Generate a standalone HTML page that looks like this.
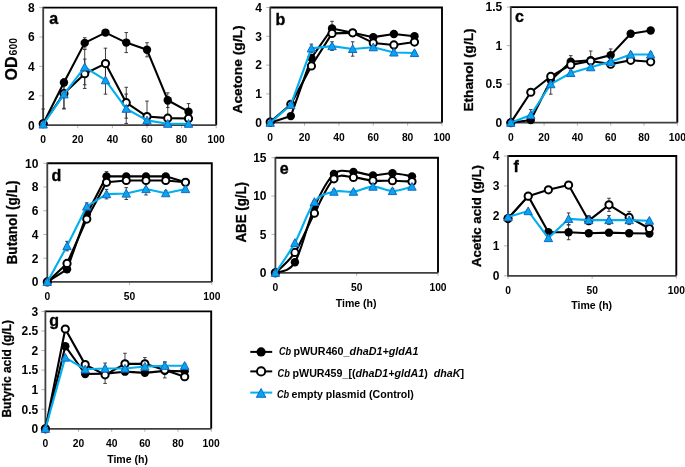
<!DOCTYPE html>
<html><head><meta charset="utf-8"><title>Figure</title>
<style>
html,body{margin:0;padding:0;background:#fff;}
body{width:685px;height:467px;overflow:hidden;}
svg{display:block;will-change:transform;filter:blur(0.35px);}
text{font-family:"Liberation Sans", sans-serif;font-weight:bold;fill:#000;}
.yl{text-anchor:end;}
.xl{text-anchor:middle;}
.pl{font-size:16px;stroke:#000;stroke-width:0.35px;}
.at{stroke:#000;stroke-width:0.3px;}
.ht{font-size:10.8px;}
.lg{font-size:10.6px;white-space:pre;}
</style></head>
<body>
<svg width="685" height="467" viewBox="0 0 685 467">
<rect width="685" height="467" fill="#fff"/>
<g id="pa">
<path d="M43.2,7.6 H216.2 V125.2" fill="none" stroke="#000" stroke-width="1.9"/>
<line x1="39.2" y1="125.2" x2="43.2" y2="125.2" stroke="#b4b4b4" stroke-width="1"/>
<text x="34.8" y="129.52" class="yl" style="font-size:12px">0</text>
<line x1="39.2" y1="95.8" x2="43.2" y2="95.8" stroke="#b4b4b4" stroke-width="1"/>
<text x="34.8" y="100.12" class="yl" style="font-size:12px">2</text>
<line x1="39.2" y1="66.4" x2="43.2" y2="66.4" stroke="#b4b4b4" stroke-width="1"/>
<text x="34.8" y="70.72" class="yl" style="font-size:12px">4</text>
<line x1="39.2" y1="37" x2="43.2" y2="37" stroke="#b4b4b4" stroke-width="1"/>
<text x="34.8" y="41.32" class="yl" style="font-size:12px">6</text>
<line x1="39.2" y1="7.6" x2="43.2" y2="7.6" stroke="#b4b4b4" stroke-width="1"/>
<text x="34.8" y="11.92" class="yl" style="font-size:12px">8</text>
<line x1="43.2" y1="125.2" x2="43.2" y2="128.2" stroke="#b4b4b4" stroke-width="1"/>
<text x="43.2" y="143.11" class="xl" style="font-size:10.3px">0</text>
<line x1="77.8" y1="125.2" x2="77.8" y2="128.2" stroke="#b4b4b4" stroke-width="1"/>
<text x="77.8" y="143.11" class="xl" style="font-size:10.3px">20</text>
<line x1="112.4" y1="125.2" x2="112.4" y2="128.2" stroke="#b4b4b4" stroke-width="1"/>
<text x="112.4" y="143.11" class="xl" style="font-size:10.3px">40</text>
<line x1="147" y1="125.2" x2="147" y2="128.2" stroke="#b4b4b4" stroke-width="1"/>
<text x="147" y="143.11" class="xl" style="font-size:10.3px">60</text>
<line x1="181.6" y1="125.2" x2="181.6" y2="128.2" stroke="#b4b4b4" stroke-width="1"/>
<text x="181.6" y="143.11" class="xl" style="font-size:10.3px">80</text>
<line x1="216.2" y1="125.2" x2="216.2" y2="128.2" stroke="#b4b4b4" stroke-width="1"/>
<text x="216.2" y="143.11" class="xl" style="font-size:10.3px">100</text>
<path d="M43.2,6.8 V125.2 H216.2" fill="none" stroke="#404040" stroke-width="1.8"/>
<text x="49.2" y="24.2" class="pl">a</text>
<path d="M43.2,109.03 V125.2 M41.4,109.03 H45 M41.4,125.2 H45" stroke="#2a2a2a" stroke-width="0.9" fill="none"/>
<path d="M84.72,37.74 V48.02 M82.92,37.74 H86.52 M82.92,48.02 H86.52" stroke="#2a2a2a" stroke-width="0.9" fill="none"/>
<path d="M105.48,31.12 V34.06 M103.68,31.12 H107.28 M103.68,34.06 H107.28" stroke="#2a2a2a" stroke-width="0.9" fill="none"/>
<path d="M126.24,32.59 V52.58 M124.44,32.59 H128.04 M124.44,52.58 H128.04" stroke="#2a2a2a" stroke-width="0.9" fill="none"/>
<path d="M147,42.73 V56.84 M145.2,42.73 H148.8 M145.2,56.84 H148.8" stroke="#2a2a2a" stroke-width="0.9" fill="none"/>
<path d="M167.76,92.86 V107.56 M165.96,92.86 H169.56 M165.96,107.56 H169.56" stroke="#2a2a2a" stroke-width="0.9" fill="none"/>
<path d="M188.52,103.59 V119.76 M186.72,103.59 H190.32 M186.72,119.76 H190.32" stroke="#2a2a2a" stroke-width="0.9" fill="none"/>
<path d="M63.96,78.9 V108.3 M62.16,78.9 H65.76 M62.16,108.3 H65.76" stroke="#2a2a2a" stroke-width="0.9" fill="none"/>
<path d="M84.72,59.05 V88.45 M82.92,59.05 H86.52 M82.92,88.45 H86.52" stroke="#2a2a2a" stroke-width="0.9" fill="none"/>
<path d="M105.48,48.17 V79.04 M103.68,48.17 H107.28 M103.68,79.04 H107.28" stroke="#2a2a2a" stroke-width="0.9" fill="none"/>
<path d="M126.24,87.27 V118.14 M124.44,87.27 H128.04 M124.44,118.14 H128.04" stroke="#2a2a2a" stroke-width="0.9" fill="none"/>
<path d="M147,101.09 V125.2 M145.2,101.09 H148.8 M145.2,125.2 H148.8" stroke="#2a2a2a" stroke-width="0.9" fill="none"/>
<path d="M167.76,104.18 V125.2 M165.96,104.18 H169.56 M165.96,125.2 H169.56" stroke="#2a2a2a" stroke-width="0.9" fill="none"/>
<path d="M188.52,114.03 V122.85 M186.72,114.03 H190.32 M186.72,122.85 H190.32" stroke="#2a2a2a" stroke-width="0.9" fill="none"/>
<path d="M63.96,79.63 V109.03 M62.16,79.63 H65.76 M62.16,109.03 H65.76" stroke="#2a2a2a" stroke-width="0.9" fill="none"/>
<path d="M84.72,49.49 V84.78 M82.92,49.49 H86.52 M82.92,84.78 H86.52" stroke="#2a2a2a" stroke-width="0.9" fill="none"/>
<path d="M105.48,66.25 V94.18 M103.68,66.25 H107.28 M103.68,94.18 H107.28" stroke="#2a2a2a" stroke-width="0.9" fill="none"/>
<path d="M126.24,94.04 V123.44 M124.44,94.04 H128.04 M124.44,123.44 H128.04" stroke="#2a2a2a" stroke-width="0.9" fill="none"/>
<path d="M147,115.94 V124.76 M145.2,115.94 H148.8 M145.2,124.76 H148.8" stroke="#2a2a2a" stroke-width="0.9" fill="none"/>
<path d="M167.76,122.26 V125.2 M165.96,122.26 H169.56 M165.96,125.2 H169.56" stroke="#2a2a2a" stroke-width="0.9" fill="none"/>
<path d="M188.52,122.26 V125.2 M186.72,122.26 H190.32 M186.72,125.2 H190.32" stroke="#2a2a2a" stroke-width="0.9" fill="none"/>
<path d="M43.2,123.73 L63.96,82.57 L84.72,42.88 L105.48,32.59 L126.24,42.59 L147,49.79 L167.76,100.21 L188.52,111.68" fill="none" stroke="#000" stroke-width="2.1" stroke-linejoin="round"/>
<circle cx="43.2" cy="123.73" r="4.2" fill="#000"/>
<circle cx="63.96" cy="82.57" r="4.2" fill="#000"/>
<circle cx="84.72" cy="42.88" r="4.2" fill="#000"/>
<circle cx="105.48" cy="32.59" r="4.2" fill="#000"/>
<circle cx="126.24" cy="42.59" r="4.2" fill="#000"/>
<circle cx="147" cy="49.79" r="4.2" fill="#000"/>
<circle cx="167.76" cy="100.21" r="4.2" fill="#000"/>
<circle cx="188.52" cy="111.68" r="4.2" fill="#000"/>
<path d="M43.2,123.73 L63.96,93.59 L84.72,73.75 L105.48,63.61 L126.24,102.71 L147,116.53 L167.76,118.14 L188.52,118.44" fill="none" stroke="#000" stroke-width="2.1" stroke-linejoin="round"/>
<circle cx="43.2" cy="123.73" r="3.6" fill="#fff" stroke="#000" stroke-width="2"/>
<circle cx="63.96" cy="93.59" r="3.6" fill="#fff" stroke="#000" stroke-width="2"/>
<circle cx="84.72" cy="73.75" r="3.6" fill="#fff" stroke="#000" stroke-width="2"/>
<circle cx="105.48" cy="63.61" r="3.6" fill="#fff" stroke="#000" stroke-width="2"/>
<circle cx="126.24" cy="102.71" r="3.6" fill="#fff" stroke="#000" stroke-width="2"/>
<circle cx="147" cy="116.53" r="3.6" fill="#fff" stroke="#000" stroke-width="2"/>
<circle cx="167.76" cy="118.14" r="3.6" fill="#fff" stroke="#000" stroke-width="2"/>
<circle cx="188.52" cy="118.44" r="3.6" fill="#fff" stroke="#000" stroke-width="2"/>
<path d="M43.2,124.47 L63.96,94.33 L84.72,67.13 L105.48,80.22 L126.24,108.74 L147,120.35 L167.76,123.73 L188.52,123.73" fill="none" stroke="#00aff0" stroke-width="2.1" stroke-linejoin="round"/>
<path d="M43.2,120.27 L47.4,128.03 L39,128.03 Z" fill="#06a6ec" stroke="#1468c8" stroke-width="1"/>
<path d="M63.96,90.13 L68.16,97.9 L59.76,97.9 Z" fill="#06a6ec" stroke="#1468c8" stroke-width="1"/>
<path d="M84.72,62.93 L88.92,70.7 L80.52,70.7 Z" fill="#06a6ec" stroke="#1468c8" stroke-width="1"/>
<path d="M105.48,76.02 L109.68,83.79 L101.28,83.79 Z" fill="#06a6ec" stroke="#1468c8" stroke-width="1"/>
<path d="M126.24,104.54 L130.44,112.31 L122.04,112.31 Z" fill="#06a6ec" stroke="#1468c8" stroke-width="1"/>
<path d="M147,116.15 L151.2,123.92 L142.8,123.92 Z" fill="#06a6ec" stroke="#1468c8" stroke-width="1"/>
<path d="M167.76,119.53 L171.96,127.3 L163.56,127.3 Z" fill="#06a6ec" stroke="#1468c8" stroke-width="1"/>
<path d="M188.52,119.53 L192.72,127.3 L184.32,127.3 Z" fill="#06a6ec" stroke="#1468c8" stroke-width="1"/>
</g>
<g id="pb">
<path d="M270.2,7.5 H442 V122.7" fill="none" stroke="#000" stroke-width="1.9"/>
<line x1="266.2" y1="122.7" x2="270.2" y2="122.7" stroke="#b4b4b4" stroke-width="1"/>
<text x="262" y="127.02" class="yl" style="font-size:12px">0</text>
<line x1="266.2" y1="93.9" x2="270.2" y2="93.9" stroke="#b4b4b4" stroke-width="1"/>
<text x="262" y="98.22" class="yl" style="font-size:12px">1</text>
<line x1="266.2" y1="65.1" x2="270.2" y2="65.1" stroke="#b4b4b4" stroke-width="1"/>
<text x="262" y="69.42" class="yl" style="font-size:12px">2</text>
<line x1="266.2" y1="36.3" x2="270.2" y2="36.3" stroke="#b4b4b4" stroke-width="1"/>
<text x="262" y="40.62" class="yl" style="font-size:12px">3</text>
<line x1="266.2" y1="7.5" x2="270.2" y2="7.5" stroke="#b4b4b4" stroke-width="1"/>
<text x="262" y="11.82" class="yl" style="font-size:12px">4</text>
<line x1="270.2" y1="122.7" x2="270.2" y2="125.7" stroke="#b4b4b4" stroke-width="1"/>
<text x="270.2" y="140.91" class="xl" style="font-size:10.3px">0</text>
<line x1="304.56" y1="122.7" x2="304.56" y2="125.7" stroke="#b4b4b4" stroke-width="1"/>
<text x="304.56" y="140.91" class="xl" style="font-size:10.3px">20</text>
<line x1="338.92" y1="122.7" x2="338.92" y2="125.7" stroke="#b4b4b4" stroke-width="1"/>
<text x="338.92" y="140.91" class="xl" style="font-size:10.3px">40</text>
<line x1="373.28" y1="122.7" x2="373.28" y2="125.7" stroke="#b4b4b4" stroke-width="1"/>
<text x="373.28" y="140.91" class="xl" style="font-size:10.3px">60</text>
<line x1="407.64" y1="122.7" x2="407.64" y2="125.7" stroke="#b4b4b4" stroke-width="1"/>
<text x="407.64" y="140.91" class="xl" style="font-size:10.3px">80</text>
<line x1="442" y1="122.7" x2="442" y2="125.7" stroke="#b4b4b4" stroke-width="1"/>
<text x="442" y="140.91" class="xl" style="font-size:10.3px">100</text>
<path d="M270.2,6.7 V122.7 H442" fill="none" stroke="#404040" stroke-width="1.8"/>
<text x="275.6" y="24.8" class="pl">b</text>
<path d="M290.82,114.64 V117.52 M289.02,114.64 H292.62 M289.02,117.52 H292.62" stroke="#2a2a2a" stroke-width="0.9" fill="none"/>
<path d="M311.43,55.02 V60.78 M309.63,55.02 H313.23 M309.63,60.78 H313.23" stroke="#2a2a2a" stroke-width="0.9" fill="none"/>
<path d="M332.05,21.32 V35.72 M330.25,21.32 H333.85 M330.25,35.72 H333.85" stroke="#2a2a2a" stroke-width="0.9" fill="none"/>
<path d="M352.66,29.96 V35.72 M350.86,29.96 H354.46 M350.86,35.72 H354.46" stroke="#2a2a2a" stroke-width="0.9" fill="none"/>
<path d="M373.28,34.28 V40.04 M371.48,34.28 H375.08 M371.48,40.04 H375.08" stroke="#2a2a2a" stroke-width="0.9" fill="none"/>
<path d="M393.9,31.12 V36.88 M392.1,31.12 H395.7 M392.1,36.88 H395.7" stroke="#2a2a2a" stroke-width="0.9" fill="none"/>
<path d="M414.51,33.42 V39.18 M412.71,33.42 H416.31 M412.71,39.18 H416.31" stroke="#2a2a2a" stroke-width="0.9" fill="none"/>
<path d="M290.82,102.83 V105.71 M289.02,102.83 H292.62 M289.02,105.71 H292.62" stroke="#2a2a2a" stroke-width="0.9" fill="none"/>
<path d="M311.43,63.08 V68.84 M309.63,63.08 H313.23 M309.63,68.84 H313.23" stroke="#2a2a2a" stroke-width="0.9" fill="none"/>
<path d="M332.05,30.54 V36.3 M330.25,30.54 H333.85 M330.25,36.3 H333.85" stroke="#2a2a2a" stroke-width="0.9" fill="none"/>
<path d="M352.66,31.4 V34.28 M350.86,31.4 H354.46 M350.86,34.28 H354.46" stroke="#2a2a2a" stroke-width="0.9" fill="none"/>
<path d="M373.28,40.04 V45.8 M371.48,40.04 H375.08 M371.48,45.8 H375.08" stroke="#2a2a2a" stroke-width="0.9" fill="none"/>
<path d="M393.9,42.06 V47.82 M392.1,42.06 H395.7 M392.1,47.82 H395.7" stroke="#2a2a2a" stroke-width="0.9" fill="none"/>
<path d="M414.51,39.18 V44.94 M412.71,39.18 H416.31 M412.71,44.94 H416.31" stroke="#2a2a2a" stroke-width="0.9" fill="none"/>
<path d="M290.82,103.4 V106.28 M289.02,103.4 H292.62 M289.02,106.28 H292.62" stroke="#2a2a2a" stroke-width="0.9" fill="none"/>
<path d="M311.43,44.08 V52.72 M309.63,44.08 H313.23 M309.63,52.72 H313.23" stroke="#2a2a2a" stroke-width="0.9" fill="none"/>
<path d="M332.05,41.77 V50.41 M330.25,41.77 H333.85 M330.25,50.41 H333.85" stroke="#2a2a2a" stroke-width="0.9" fill="none"/>
<path d="M352.66,41.77 V56.17 M350.86,41.77 H354.46 M350.86,56.17 H354.46" stroke="#2a2a2a" stroke-width="0.9" fill="none"/>
<path d="M373.28,44.36 V50.12 M371.48,44.36 H375.08 M371.48,50.12 H375.08" stroke="#2a2a2a" stroke-width="0.9" fill="none"/>
<path d="M393.9,49.55 V55.31 M392.1,49.55 H395.7 M392.1,55.31 H395.7" stroke="#2a2a2a" stroke-width="0.9" fill="none"/>
<path d="M414.51,51.56 V54.44 M412.71,51.56 H416.31 M412.71,54.44 H416.31" stroke="#2a2a2a" stroke-width="0.9" fill="none"/>
<path d="M270.2,122.7 L290.82,116.08 L311.43,57.9 L332.05,28.52 L352.66,32.84 L373.28,37.16 L393.9,34 L414.51,36.3" fill="none" stroke="#000" stroke-width="2.1" stroke-linejoin="round"/>
<circle cx="270.2" cy="122.7" r="4.2" fill="#000"/>
<circle cx="290.82" cy="116.08" r="4.2" fill="#000"/>
<circle cx="311.43" cy="57.9" r="4.2" fill="#000"/>
<circle cx="332.05" cy="28.52" r="4.2" fill="#000"/>
<circle cx="352.66" cy="32.84" r="4.2" fill="#000"/>
<circle cx="373.28" cy="37.16" r="4.2" fill="#000"/>
<circle cx="393.9" cy="34" r="4.2" fill="#000"/>
<circle cx="414.51" cy="36.3" r="4.2" fill="#000"/>
<path d="M270.2,122.12 L290.82,104.27 L311.43,65.96 L332.05,33.42 L352.66,32.84 L373.28,42.92 L393.9,44.94 L414.51,42.06" fill="none" stroke="#000" stroke-width="2.1" stroke-linejoin="round"/>
<circle cx="270.2" cy="122.12" r="3.6" fill="#fff" stroke="#000" stroke-width="2"/>
<circle cx="290.82" cy="104.27" r="3.6" fill="#fff" stroke="#000" stroke-width="2"/>
<circle cx="311.43" cy="65.96" r="3.6" fill="#fff" stroke="#000" stroke-width="2"/>
<circle cx="332.05" cy="33.42" r="3.6" fill="#fff" stroke="#000" stroke-width="2"/>
<circle cx="352.66" cy="32.84" r="3.6" fill="#fff" stroke="#000" stroke-width="2"/>
<circle cx="373.28" cy="42.92" r="3.6" fill="#fff" stroke="#000" stroke-width="2"/>
<circle cx="393.9" cy="44.94" r="3.6" fill="#fff" stroke="#000" stroke-width="2"/>
<circle cx="414.51" cy="42.06" r="3.6" fill="#fff" stroke="#000" stroke-width="2"/>
<path d="M270.2,122.7 L290.82,104.84 L311.43,48.4 L332.05,46.09 L352.66,48.97 L373.28,47.24 L393.9,52.43 L414.51,53" fill="none" stroke="#00aff0" stroke-width="2.1" stroke-linejoin="round"/>
<path d="M270.2,118.5 L274.4,126.27 L266,126.27 Z" fill="#06a6ec" stroke="#1468c8" stroke-width="1"/>
<path d="M290.82,100.64 L295.02,108.41 L286.62,108.41 Z" fill="#06a6ec" stroke="#1468c8" stroke-width="1"/>
<path d="M311.43,44.2 L315.63,51.97 L307.23,51.97 Z" fill="#06a6ec" stroke="#1468c8" stroke-width="1"/>
<path d="M332.05,41.89 L336.25,49.66 L327.85,49.66 Z" fill="#06a6ec" stroke="#1468c8" stroke-width="1"/>
<path d="M352.66,44.77 L356.86,52.54 L348.46,52.54 Z" fill="#06a6ec" stroke="#1468c8" stroke-width="1"/>
<path d="M373.28,43.04 L377.48,50.81 L369.08,50.81 Z" fill="#06a6ec" stroke="#1468c8" stroke-width="1"/>
<path d="M393.9,48.23 L398.1,56 L389.7,56 Z" fill="#06a6ec" stroke="#1468c8" stroke-width="1"/>
<path d="M414.51,48.8 L418.71,56.57 L410.31,56.57 Z" fill="#06a6ec" stroke="#1468c8" stroke-width="1"/>
</g>
<g id="pc">
<path d="M510.8,7.1 H677.3 V122.7" fill="none" stroke="#000" stroke-width="1.9"/>
<line x1="506.8" y1="122.7" x2="510.8" y2="122.7" stroke="#b4b4b4" stroke-width="1"/>
<text x="502.3" y="127.02" class="yl" style="font-size:12px">0</text>
<line x1="506.8" y1="84.17" x2="510.8" y2="84.17" stroke="#b4b4b4" stroke-width="1"/>
<text x="502.3" y="88.49" class="yl" style="font-size:12px">0.5</text>
<line x1="506.8" y1="45.63" x2="510.8" y2="45.63" stroke="#b4b4b4" stroke-width="1"/>
<text x="502.3" y="49.95" class="yl" style="font-size:12px">1</text>
<line x1="506.8" y1="7.1" x2="510.8" y2="7.1" stroke="#b4b4b4" stroke-width="1"/>
<text x="502.3" y="11.42" class="yl" style="font-size:12px">1.5</text>
<line x1="510.8" y1="122.7" x2="510.8" y2="125.7" stroke="#b4b4b4" stroke-width="1"/>
<text x="510.8" y="140.91" class="xl" style="font-size:10.3px">0</text>
<line x1="544.1" y1="122.7" x2="544.1" y2="125.7" stroke="#b4b4b4" stroke-width="1"/>
<text x="544.1" y="140.91" class="xl" style="font-size:10.3px">20</text>
<line x1="577.4" y1="122.7" x2="577.4" y2="125.7" stroke="#b4b4b4" stroke-width="1"/>
<text x="577.4" y="140.91" class="xl" style="font-size:10.3px">40</text>
<line x1="610.7" y1="122.7" x2="610.7" y2="125.7" stroke="#b4b4b4" stroke-width="1"/>
<text x="610.7" y="140.91" class="xl" style="font-size:10.3px">60</text>
<line x1="644" y1="122.7" x2="644" y2="125.7" stroke="#b4b4b4" stroke-width="1"/>
<text x="644" y="140.91" class="xl" style="font-size:10.3px">80</text>
<line x1="677.3" y1="122.7" x2="677.3" y2="125.7" stroke="#b4b4b4" stroke-width="1"/>
<text x="677.3" y="140.91" class="xl" style="font-size:10.3px">100</text>
<path d="M510.8,6.3 V122.7 H677.3" fill="none" stroke="#404040" stroke-width="1.8"/>
<text x="515" y="22.2" class="pl">c</text>
<path d="M530.78,118.46 V121.54 M528.98,118.46 H532.58 M528.98,121.54 H532.58" stroke="#2a2a2a" stroke-width="0.9" fill="none"/>
<path d="M550.76,76.46 V84.17 M548.96,76.46 H552.56 M548.96,84.17 H552.56" stroke="#2a2a2a" stroke-width="0.9" fill="none"/>
<path d="M570.74,55.65 V67.98 M568.94,55.65 H572.54 M568.94,67.98 H572.54" stroke="#2a2a2a" stroke-width="0.9" fill="none"/>
<path d="M590.72,51.03 V69.52 M588.92,51.03 H592.52 M588.92,69.52 H592.52" stroke="#2a2a2a" stroke-width="0.9" fill="none"/>
<path d="M610.7,48.95 V61.28 M608.9,48.95 H612.5 M608.9,61.28 H612.5" stroke="#2a2a2a" stroke-width="0.9" fill="none"/>
<path d="M630.68,32.15 V35.23 M628.88,32.15 H632.48 M628.88,35.23 H632.48" stroke="#2a2a2a" stroke-width="0.9" fill="none"/>
<path d="M650.66,28.91 V31.99 M648.86,28.91 H652.46 M648.86,31.99 H652.46" stroke="#2a2a2a" stroke-width="0.9" fill="none"/>
<path d="M530.78,90.72 V93.8 M528.98,90.72 H532.58 M528.98,93.8 H532.58" stroke="#2a2a2a" stroke-width="0.9" fill="none"/>
<path d="M550.76,74.15 V78.77 M548.96,74.15 H552.56 M548.96,78.77 H552.56" stroke="#2a2a2a" stroke-width="0.9" fill="none"/>
<path d="M570.74,62.59 V67.21 M568.94,62.59 H572.54 M568.94,67.21 H572.54" stroke="#2a2a2a" stroke-width="0.9" fill="none"/>
<path d="M590.72,58.73 V63.36 M588.92,58.73 H592.52 M588.92,63.36 H592.52" stroke="#2a2a2a" stroke-width="0.9" fill="none"/>
<path d="M610.7,61.82 V66.44 M608.9,61.82 H612.5 M608.9,66.44 H612.5" stroke="#2a2a2a" stroke-width="0.9" fill="none"/>
<path d="M630.68,57.96 V62.59 M628.88,57.96 H632.48 M628.88,62.59 H632.48" stroke="#2a2a2a" stroke-width="0.9" fill="none"/>
<path d="M650.66,59.51 V64.13 M648.86,59.51 H652.46 M648.86,64.13 H652.46" stroke="#2a2a2a" stroke-width="0.9" fill="none"/>
<path d="M530.78,109.6 V120.39 M528.98,109.6 H532.58 M528.98,120.39 H532.58" stroke="#2a2a2a" stroke-width="0.9" fill="none"/>
<path d="M550.76,74.15 V94.19 M548.96,74.15 H552.56 M548.96,94.19 H552.56" stroke="#2a2a2a" stroke-width="0.9" fill="none"/>
<path d="M570.74,70.68 V75.3 M568.94,70.68 H572.54 M568.94,75.3 H572.54" stroke="#2a2a2a" stroke-width="0.9" fill="none"/>
<path d="M590.72,64.9 V69.52 M588.92,64.9 H592.52 M588.92,69.52 H592.52" stroke="#2a2a2a" stroke-width="0.9" fill="none"/>
<path d="M610.7,59.51 V64.13 M608.9,59.51 H612.5 M608.9,64.13 H612.5" stroke="#2a2a2a" stroke-width="0.9" fill="none"/>
<path d="M630.68,52.18 V56.81 M628.88,52.18 H632.48 M628.88,56.81 H632.48" stroke="#2a2a2a" stroke-width="0.9" fill="none"/>
<path d="M650.66,52.18 V56.81 M648.86,52.18 H652.46 M648.86,56.81 H652.46" stroke="#2a2a2a" stroke-width="0.9" fill="none"/>
<path d="M510.8,122.7 L530.78,120 L550.76,80.31 L570.74,61.82 L590.72,60.28 L610.7,55.11 L630.68,33.69 L650.66,30.45" fill="none" stroke="#000" stroke-width="2.1" stroke-linejoin="round"/>
<circle cx="510.8" cy="122.7" r="4.2" fill="#000"/>
<circle cx="530.78" cy="120" r="4.2" fill="#000"/>
<circle cx="550.76" cy="80.31" r="4.2" fill="#000"/>
<circle cx="570.74" cy="61.82" r="4.2" fill="#000"/>
<circle cx="590.72" cy="60.28" r="4.2" fill="#000"/>
<circle cx="610.7" cy="55.11" r="4.2" fill="#000"/>
<circle cx="630.68" cy="33.69" r="4.2" fill="#000"/>
<circle cx="650.66" cy="30.45" r="4.2" fill="#000"/>
<path d="M510.8,122.7 L530.78,92.26 L550.76,76.46 L570.74,64.9 L590.72,61.05 L610.7,64.13 L630.68,60.28 L650.66,61.82" fill="none" stroke="#000" stroke-width="2.1" stroke-linejoin="round"/>
<circle cx="510.8" cy="122.7" r="3.6" fill="#fff" stroke="#000" stroke-width="2"/>
<circle cx="530.78" cy="92.26" r="3.6" fill="#fff" stroke="#000" stroke-width="2"/>
<circle cx="550.76" cy="76.46" r="3.6" fill="#fff" stroke="#000" stroke-width="2"/>
<circle cx="570.74" cy="64.9" r="3.6" fill="#fff" stroke="#000" stroke-width="2"/>
<circle cx="590.72" cy="61.05" r="3.6" fill="#fff" stroke="#000" stroke-width="2"/>
<circle cx="610.7" cy="64.13" r="3.6" fill="#fff" stroke="#000" stroke-width="2"/>
<circle cx="630.68" cy="60.28" r="3.6" fill="#fff" stroke="#000" stroke-width="2"/>
<circle cx="650.66" cy="61.82" r="3.6" fill="#fff" stroke="#000" stroke-width="2"/>
<path d="M510.8,122.7 L530.78,114.99 L550.76,84.17 L570.74,72.99 L590.72,67.21 L610.7,61.82 L630.68,54.5 L650.66,54.5" fill="none" stroke="#00aff0" stroke-width="2.1" stroke-linejoin="round"/>
<path d="M510.8,118.5 L515,126.27 L506.6,126.27 Z" fill="#06a6ec" stroke="#1468c8" stroke-width="1"/>
<path d="M530.78,110.79 L534.98,118.56 L526.58,118.56 Z" fill="#06a6ec" stroke="#1468c8" stroke-width="1"/>
<path d="M550.76,79.97 L554.96,87.74 L546.56,87.74 Z" fill="#06a6ec" stroke="#1468c8" stroke-width="1"/>
<path d="M570.74,68.79 L574.94,76.56 L566.54,76.56 Z" fill="#06a6ec" stroke="#1468c8" stroke-width="1"/>
<path d="M590.72,63.01 L594.92,70.78 L586.52,70.78 Z" fill="#06a6ec" stroke="#1468c8" stroke-width="1"/>
<path d="M610.7,57.62 L614.9,65.39 L606.5,65.39 Z" fill="#06a6ec" stroke="#1468c8" stroke-width="1"/>
<path d="M630.68,50.3 L634.88,58.07 L626.48,58.07 Z" fill="#06a6ec" stroke="#1468c8" stroke-width="1"/>
<path d="M650.66,50.3 L654.86,58.07 L646.46,58.07 Z" fill="#06a6ec" stroke="#1468c8" stroke-width="1"/>
</g>
<g id="pd">
<path d="M47.3,163.3 H211.8 V281.9" fill="none" stroke="#000" stroke-width="1.9"/>
<line x1="43.3" y1="281.9" x2="47.3" y2="281.9" stroke="#b4b4b4" stroke-width="1"/>
<text x="38.4" y="286.22" class="yl" style="font-size:12px">0</text>
<line x1="43.3" y1="258.18" x2="47.3" y2="258.18" stroke="#b4b4b4" stroke-width="1"/>
<text x="38.4" y="262.5" class="yl" style="font-size:12px">2</text>
<line x1="43.3" y1="234.46" x2="47.3" y2="234.46" stroke="#b4b4b4" stroke-width="1"/>
<text x="38.4" y="238.78" class="yl" style="font-size:12px">4</text>
<line x1="43.3" y1="210.74" x2="47.3" y2="210.74" stroke="#b4b4b4" stroke-width="1"/>
<text x="38.4" y="215.06" class="yl" style="font-size:12px">6</text>
<line x1="43.3" y1="187.02" x2="47.3" y2="187.02" stroke="#b4b4b4" stroke-width="1"/>
<text x="38.4" y="191.34" class="yl" style="font-size:12px">8</text>
<line x1="43.3" y1="163.3" x2="47.3" y2="163.3" stroke="#b4b4b4" stroke-width="1"/>
<text x="38.4" y="167.62" class="yl" style="font-size:12px">10</text>
<line x1="47.3" y1="281.9" x2="47.3" y2="284.9" stroke="#b4b4b4" stroke-width="1"/>
<text x="47.3" y="299.51" class="xl" style="font-size:10.3px">0</text>
<line x1="129.55" y1="281.9" x2="129.55" y2="284.9" stroke="#b4b4b4" stroke-width="1"/>
<text x="129.55" y="299.51" class="xl" style="font-size:10.3px">50</text>
<line x1="211.8" y1="281.9" x2="211.8" y2="284.9" stroke="#b4b4b4" stroke-width="1"/>
<text x="211.8" y="299.51" class="xl" style="font-size:10.3px">100</text>
<path d="M47.3,162.5 V281.9 H211.8" fill="none" stroke="#404040" stroke-width="1.8"/>
<text x="51.4" y="180.6" class="pl">d</text>
<path d="M67.04,268.14 V270.51 M65.24,268.14 H68.84 M65.24,270.51 H68.84" stroke="#2a2a2a" stroke-width="0.9" fill="none"/>
<path d="M86.78,211.93 V216.67 M84.98,211.93 H88.58 M84.98,216.67 H88.58" stroke="#2a2a2a" stroke-width="0.9" fill="none"/>
<path d="M106.52,171.6 V181.09 M104.72,171.6 H108.32 M104.72,181.09 H108.32" stroke="#2a2a2a" stroke-width="0.9" fill="none"/>
<path d="M126.26,175.16 V177.53 M124.46,175.16 H128.06 M124.46,177.53 H128.06" stroke="#2a2a2a" stroke-width="0.9" fill="none"/>
<path d="M146,173.97 V178.72 M144.2,173.97 H147.8 M144.2,178.72 H147.8" stroke="#2a2a2a" stroke-width="0.9" fill="none"/>
<path d="M165.74,175.16 V177.53 M163.94,175.16 H167.54 M163.94,177.53 H167.54" stroke="#2a2a2a" stroke-width="0.9" fill="none"/>
<path d="M185.48,181.09 V183.46 M183.68,181.09 H187.28 M183.68,183.46 H187.28" stroke="#2a2a2a" stroke-width="0.9" fill="none"/>
<path d="M67.04,262.21 V264.58 M65.24,262.21 H68.84 M65.24,264.58 H68.84" stroke="#2a2a2a" stroke-width="0.9" fill="none"/>
<path d="M86.78,217.86 V220.23 M84.98,217.86 H88.58 M84.98,220.23 H88.58" stroke="#2a2a2a" stroke-width="0.9" fill="none"/>
<path d="M106.52,181.09 V183.46 M104.72,181.09 H108.32 M104.72,183.46 H108.32" stroke="#2a2a2a" stroke-width="0.9" fill="none"/>
<path d="M126.26,179.31 V181.68 M124.46,179.31 H128.06 M124.46,181.68 H128.06" stroke="#2a2a2a" stroke-width="0.9" fill="none"/>
<path d="M146,179.31 V181.68 M144.2,179.31 H147.8 M144.2,181.68 H147.8" stroke="#2a2a2a" stroke-width="0.9" fill="none"/>
<path d="M165.74,179.31 V181.68 M163.94,179.31 H167.54 M163.94,181.68 H167.54" stroke="#2a2a2a" stroke-width="0.9" fill="none"/>
<path d="M185.48,181.09 V183.46 M183.68,181.09 H187.28 M183.68,183.46 H187.28" stroke="#2a2a2a" stroke-width="0.9" fill="none"/>
<path d="M67.04,241.34 V250.83 M65.24,241.34 H68.84 M65.24,250.83 H68.84" stroke="#2a2a2a" stroke-width="0.9" fill="none"/>
<path d="M86.78,202.91 V210.03 M84.98,202.91 H88.58 M84.98,210.03 H88.58" stroke="#2a2a2a" stroke-width="0.9" fill="none"/>
<path d="M106.52,189.39 V198.88 M104.72,189.39 H108.32 M104.72,198.88 H108.32" stroke="#2a2a2a" stroke-width="0.9" fill="none"/>
<path d="M126.26,187.61 V199.47 M124.46,187.61 H128.06 M124.46,199.47 H128.06" stroke="#2a2a2a" stroke-width="0.9" fill="none"/>
<path d="M146,183.11 V194.97 M144.2,183.11 H147.8 M144.2,194.97 H147.8" stroke="#2a2a2a" stroke-width="0.9" fill="none"/>
<path d="M165.74,190.82 V195.56 M163.94,190.82 H167.54 M163.94,195.56 H167.54" stroke="#2a2a2a" stroke-width="0.9" fill="none"/>
<path d="M185.48,186.66 V191.41 M183.68,186.66 H187.28 M183.68,191.41 H187.28" stroke="#2a2a2a" stroke-width="0.9" fill="none"/>
<path d="M47.3,281.9 L67.04,269.33 L86.78,214.3 L106.52,176.35 L126.26,176.35 L146,176.35 L165.74,176.35 L185.48,182.28" fill="none" stroke="#000" stroke-width="2.1" stroke-linejoin="round"/>
<circle cx="47.3" cy="281.9" r="4.2" fill="#000"/>
<circle cx="67.04" cy="269.33" r="4.2" fill="#000"/>
<circle cx="86.78" cy="214.3" r="4.2" fill="#000"/>
<circle cx="106.52" cy="176.35" r="4.2" fill="#000"/>
<circle cx="126.26" cy="176.35" r="4.2" fill="#000"/>
<circle cx="146" cy="176.35" r="4.2" fill="#000"/>
<circle cx="165.74" cy="176.35" r="4.2" fill="#000"/>
<circle cx="185.48" cy="182.28" r="4.2" fill="#000"/>
<path d="M47.3,281.9 L67.04,263.4 L86.78,219.04 L106.52,182.28 L126.26,180.5 L146,180.5 L165.74,180.5 L185.48,182.28" fill="none" stroke="#000" stroke-width="2.1" stroke-linejoin="round"/>
<circle cx="47.3" cy="281.9" r="3.6" fill="#fff" stroke="#000" stroke-width="2"/>
<circle cx="67.04" cy="263.4" r="3.6" fill="#fff" stroke="#000" stroke-width="2"/>
<circle cx="86.78" cy="219.04" r="3.6" fill="#fff" stroke="#000" stroke-width="2"/>
<circle cx="106.52" cy="182.28" r="3.6" fill="#fff" stroke="#000" stroke-width="2"/>
<circle cx="126.26" cy="180.5" r="3.6" fill="#fff" stroke="#000" stroke-width="2"/>
<circle cx="146" cy="180.5" r="3.6" fill="#fff" stroke="#000" stroke-width="2"/>
<circle cx="165.74" cy="180.5" r="3.6" fill="#fff" stroke="#000" stroke-width="2"/>
<circle cx="185.48" cy="182.28" r="3.6" fill="#fff" stroke="#000" stroke-width="2"/>
<path d="M47.3,281.9 L67.04,246.08 L86.78,206.47 L106.52,194.14 L126.26,193.54 L146,189.04 L165.74,193.19 L185.48,189.04" fill="none" stroke="#00aff0" stroke-width="2.1" stroke-linejoin="round"/>
<path d="M47.3,277.7 L51.5,285.47 L43.1,285.47 Z" fill="#06a6ec" stroke="#1468c8" stroke-width="1"/>
<path d="M67.04,241.88 L71.24,249.65 L62.84,249.65 Z" fill="#06a6ec" stroke="#1468c8" stroke-width="1"/>
<path d="M86.78,202.27 L90.98,210.04 L82.58,210.04 Z" fill="#06a6ec" stroke="#1468c8" stroke-width="1"/>
<path d="M106.52,189.94 L110.72,197.71 L102.32,197.71 Z" fill="#06a6ec" stroke="#1468c8" stroke-width="1"/>
<path d="M126.26,189.34 L130.46,197.11 L122.06,197.11 Z" fill="#06a6ec" stroke="#1468c8" stroke-width="1"/>
<path d="M146,184.84 L150.2,192.61 L141.8,192.61 Z" fill="#06a6ec" stroke="#1468c8" stroke-width="1"/>
<path d="M165.74,188.99 L169.94,196.76 L161.54,196.76 Z" fill="#06a6ec" stroke="#1468c8" stroke-width="1"/>
<path d="M185.48,184.84 L189.68,192.61 L181.28,192.61 Z" fill="#06a6ec" stroke="#1468c8" stroke-width="1"/>
</g>
<g id="pe">
<path d="M275.4,157.7 H438 V272.8" fill="none" stroke="#000" stroke-width="1.9"/>
<line x1="271.4" y1="272.8" x2="275.4" y2="272.8" stroke="#b4b4b4" stroke-width="1"/>
<text x="266.5" y="277.12" class="yl" style="font-size:12px">0</text>
<line x1="271.4" y1="234.43" x2="275.4" y2="234.43" stroke="#b4b4b4" stroke-width="1"/>
<text x="266.5" y="238.75" class="yl" style="font-size:12px">5</text>
<line x1="271.4" y1="196.07" x2="275.4" y2="196.07" stroke="#b4b4b4" stroke-width="1"/>
<text x="266.5" y="200.39" class="yl" style="font-size:12px">10</text>
<line x1="271.4" y1="157.7" x2="275.4" y2="157.7" stroke="#b4b4b4" stroke-width="1"/>
<text x="266.5" y="162.02" class="yl" style="font-size:12px">15</text>
<line x1="275.4" y1="272.8" x2="275.4" y2="275.8" stroke="#b4b4b4" stroke-width="1"/>
<text x="275.4" y="290.91" class="xl" style="font-size:10.3px">0</text>
<line x1="356.7" y1="272.8" x2="356.7" y2="275.8" stroke="#b4b4b4" stroke-width="1"/>
<text x="356.7" y="290.91" class="xl" style="font-size:10.3px">50</text>
<line x1="438" y1="272.8" x2="438" y2="275.8" stroke="#b4b4b4" stroke-width="1"/>
<text x="438" y="290.91" class="xl" style="font-size:10.3px">100</text>
<path d="M275.4,156.9 V272.8 H438" fill="none" stroke="#404040" stroke-width="1.8"/>
<text x="279.8" y="174.1" class="pl">e</text>
<path d="M294.91,261.52 V263.05 M293.11,261.52 H296.71 M293.11,263.05 H296.71" stroke="#2a2a2a" stroke-width="0.9" fill="none"/>
<path d="M314.42,205.58 V208.65 M312.62,205.58 H316.22 M312.62,208.65 H316.22" stroke="#2a2a2a" stroke-width="0.9" fill="none"/>
<path d="M333.94,172.51 V175.58 M332.14,172.51 H335.74 M332.14,175.58 H335.74" stroke="#2a2a2a" stroke-width="0.9" fill="none"/>
<path d="M353.45,170.36 V173.43 M351.65,170.36 H355.25 M351.65,173.43 H355.25" stroke="#2a2a2a" stroke-width="0.9" fill="none"/>
<path d="M372.96,173.81 V176.88 M371.16,173.81 H374.76 M371.16,176.88 H374.76" stroke="#2a2a2a" stroke-width="0.9" fill="none"/>
<path d="M392.47,171.74 V174.81 M390.67,171.74 H394.27 M390.67,174.81 H394.27" stroke="#2a2a2a" stroke-width="0.9" fill="none"/>
<path d="M411.98,174.81 V177.88 M410.18,174.81 H413.78 M410.18,177.88 H413.78" stroke="#2a2a2a" stroke-width="0.9" fill="none"/>
<path d="M294.91,251.62 V253.16 M293.11,251.62 H296.71 M293.11,253.16 H296.71" stroke="#2a2a2a" stroke-width="0.9" fill="none"/>
<path d="M314.42,211.64 V214.71 M312.62,211.64 H316.22 M312.62,214.71 H316.22" stroke="#2a2a2a" stroke-width="0.9" fill="none"/>
<path d="M333.94,177.27 V180.34 M332.14,177.27 H335.74 M332.14,180.34 H335.74" stroke="#2a2a2a" stroke-width="0.9" fill="none"/>
<path d="M353.45,175.89 V178.96 M351.65,175.89 H355.25 M351.65,178.96 H355.25" stroke="#2a2a2a" stroke-width="0.9" fill="none"/>
<path d="M372.96,179.19 V182.25 M371.16,179.19 H374.76 M371.16,182.25 H374.76" stroke="#2a2a2a" stroke-width="0.9" fill="none"/>
<path d="M392.47,179.19 V182.25 M390.67,179.19 H394.27 M390.67,182.25 H394.27" stroke="#2a2a2a" stroke-width="0.9" fill="none"/>
<path d="M411.98,179.95 V183.02 M410.18,179.95 H413.78 M410.18,183.02 H413.78" stroke="#2a2a2a" stroke-width="0.9" fill="none"/>
<path d="M294.91,241.34 V244.41 M293.11,241.34 H296.71 M293.11,244.41 H296.71" stroke="#2a2a2a" stroke-width="0.9" fill="none"/>
<path d="M314.42,200.36 V203.43 M312.62,200.36 H316.22 M312.62,203.43 H316.22" stroke="#2a2a2a" stroke-width="0.9" fill="none"/>
<path d="M333.94,189.39 V193.99 M332.14,189.39 H335.74 M332.14,193.99 H335.74" stroke="#2a2a2a" stroke-width="0.9" fill="none"/>
<path d="M353.45,190.16 V193.23 M351.65,190.16 H355.25 M351.65,193.23 H355.25" stroke="#2a2a2a" stroke-width="0.9" fill="none"/>
<path d="M372.96,184.33 V188.93 M371.16,184.33 H374.76 M371.16,188.93 H374.76" stroke="#2a2a2a" stroke-width="0.9" fill="none"/>
<path d="M392.47,188.7 V193.3 M390.67,188.7 H394.27 M390.67,193.3 H394.27" stroke="#2a2a2a" stroke-width="0.9" fill="none"/>
<path d="M411.98,185.09 V188.16 M410.18,185.09 H413.78 M410.18,188.16 H413.78" stroke="#2a2a2a" stroke-width="0.9" fill="none"/>
<path d="M275.4,272.8 C278.65,271.05 288.41,273.23 294.91,262.29 C301.42,251.34 307.92,221.82 314.42,207.12 C320.93,192.41 327.43,179.91 333.94,174.04 C340.44,168.17 346.94,171.68 353.45,171.9 C359.95,172.11 366.46,175.12 372.96,175.35 C379.46,175.58 385.97,173.11 392.47,173.28 C398.98,173.44 408.73,175.83 411.98,176.35" fill="none" stroke="#000" stroke-width="2.1" stroke-linejoin="round"/>
<circle cx="275.4" cy="272.8" r="4.2" fill="#000"/>
<circle cx="294.91" cy="262.29" r="4.2" fill="#000"/>
<circle cx="314.42" cy="207.12" r="4.2" fill="#000"/>
<circle cx="333.94" cy="174.04" r="4.2" fill="#000"/>
<circle cx="353.45" cy="171.9" r="4.2" fill="#000"/>
<circle cx="372.96" cy="175.35" r="4.2" fill="#000"/>
<circle cx="392.47" cy="173.28" r="4.2" fill="#000"/>
<circle cx="411.98" cy="176.35" r="4.2" fill="#000"/>
<path d="M275.4,272.8 C278.65,269.4 288.41,262.33 294.91,252.39 C301.42,242.45 307.92,225.44 314.42,213.18 C320.93,200.91 327.43,184.76 333.94,178.8 C340.44,172.84 346.94,177.1 353.45,177.42 C359.95,177.74 366.46,180.17 372.96,180.72 C379.46,181.27 385.97,180.59 392.47,180.72 C398.98,180.85 408.73,181.36 411.98,181.49" fill="none" stroke="#000" stroke-width="2.1" stroke-linejoin="round"/>
<circle cx="275.4" cy="272.8" r="3.6" fill="#fff" stroke="#000" stroke-width="2"/>
<circle cx="294.91" cy="252.39" r="3.6" fill="#fff" stroke="#000" stroke-width="2"/>
<circle cx="314.42" cy="213.18" r="3.6" fill="#fff" stroke="#000" stroke-width="2"/>
<circle cx="333.94" cy="178.8" r="3.6" fill="#fff" stroke="#000" stroke-width="2"/>
<circle cx="353.45" cy="177.42" r="3.6" fill="#fff" stroke="#000" stroke-width="2"/>
<circle cx="372.96" cy="180.72" r="3.6" fill="#fff" stroke="#000" stroke-width="2"/>
<circle cx="392.47" cy="180.72" r="3.6" fill="#fff" stroke="#000" stroke-width="2"/>
<circle cx="411.98" cy="181.49" r="3.6" fill="#fff" stroke="#000" stroke-width="2"/>
<path d="M275.4,272.8 C278.65,267.81 288.41,254.69 294.91,242.87 C301.42,231.06 307.92,210.43 314.42,201.9 C320.93,193.37 327.43,193.39 333.94,191.69 C340.44,189.99 346.94,192.54 353.45,191.69 C359.95,190.85 366.46,186.74 372.96,186.63 C379.46,186.51 385.97,191 392.47,191 C398.98,191 408.73,187.36 411.98,186.63" fill="none" stroke="#00aff0" stroke-width="2.1" stroke-linejoin="round"/>
<path d="M275.4,268.6 L279.6,276.37 L271.2,276.37 Z" fill="#06a6ec" stroke="#1468c8" stroke-width="1"/>
<path d="M294.91,238.67 L299.11,246.44 L290.71,246.44 Z" fill="#06a6ec" stroke="#1468c8" stroke-width="1"/>
<path d="M314.42,197.7 L318.62,205.47 L310.22,205.47 Z" fill="#06a6ec" stroke="#1468c8" stroke-width="1"/>
<path d="M333.94,187.49 L338.14,195.26 L329.74,195.26 Z" fill="#06a6ec" stroke="#1468c8" stroke-width="1"/>
<path d="M353.45,187.49 L357.65,195.26 L349.25,195.26 Z" fill="#06a6ec" stroke="#1468c8" stroke-width="1"/>
<path d="M372.96,182.43 L377.16,190.2 L368.76,190.2 Z" fill="#06a6ec" stroke="#1468c8" stroke-width="1"/>
<path d="M392.47,186.8 L396.67,194.57 L388.27,194.57 Z" fill="#06a6ec" stroke="#1468c8" stroke-width="1"/>
<path d="M411.98,182.43 L416.18,190.2 L407.78,190.2 Z" fill="#06a6ec" stroke="#1468c8" stroke-width="1"/>
</g>
<g id="pf">
<path d="M508,156 H676.3 V275.8" fill="none" stroke="#000" stroke-width="1.9"/>
<line x1="504" y1="275.8" x2="508" y2="275.8" stroke="#b4b4b4" stroke-width="1"/>
<text x="499.4" y="280.12" class="yl" style="font-size:12px">0</text>
<line x1="504" y1="245.85" x2="508" y2="245.85" stroke="#b4b4b4" stroke-width="1"/>
<text x="499.4" y="250.17" class="yl" style="font-size:12px">1</text>
<line x1="504" y1="215.9" x2="508" y2="215.9" stroke="#b4b4b4" stroke-width="1"/>
<text x="499.4" y="220.22" class="yl" style="font-size:12px">2</text>
<line x1="504" y1="185.95" x2="508" y2="185.95" stroke="#b4b4b4" stroke-width="1"/>
<text x="499.4" y="190.27" class="yl" style="font-size:12px">3</text>
<line x1="504" y1="156" x2="508" y2="156" stroke="#b4b4b4" stroke-width="1"/>
<text x="499.4" y="160.32" class="yl" style="font-size:12px">4</text>
<line x1="508" y1="275.8" x2="508" y2="278.8" stroke="#b4b4b4" stroke-width="1"/>
<text x="508" y="294.11" class="xl" style="font-size:10.3px">0</text>
<line x1="592.15" y1="275.8" x2="592.15" y2="278.8" stroke="#b4b4b4" stroke-width="1"/>
<text x="592.15" y="294.11" class="xl" style="font-size:10.3px">50</text>
<line x1="676.3" y1="275.8" x2="676.3" y2="278.8" stroke="#b4b4b4" stroke-width="1"/>
<text x="676.3" y="294.11" class="xl" style="font-size:10.3px">100</text>
<path d="M508,155.2 V275.8 H676.3" fill="none" stroke="#404040" stroke-width="1.8"/>
<text x="513.6" y="171.6" class="pl">f</text>
<path d="M528.2,194.64 V197.63 M526.4,194.64 H530 M526.4,197.63 H530" stroke="#2a2a2a" stroke-width="0.9" fill="none"/>
<path d="M548.39,230.73 V233.72 M546.59,230.73 H550.19 M546.59,233.72 H550.19" stroke="#2a2a2a" stroke-width="0.9" fill="none"/>
<path d="M568.59,224.74 V239.71 M566.79,224.74 H570.39 M566.79,239.71 H570.39" stroke="#2a2a2a" stroke-width="0.9" fill="none"/>
<path d="M588.78,231.77 V234.77 M586.98,231.77 H590.58 M586.98,234.77 H590.58" stroke="#2a2a2a" stroke-width="0.9" fill="none"/>
<path d="M608.98,231.17 V234.17 M607.18,231.17 H610.78 M607.18,234.17 H610.78" stroke="#2a2a2a" stroke-width="0.9" fill="none"/>
<path d="M629.18,231.77 V234.77 M627.38,231.77 H630.98 M627.38,234.77 H630.98" stroke="#2a2a2a" stroke-width="0.9" fill="none"/>
<path d="M649.37,232.07 V235.07 M647.57,232.07 H651.17 M647.57,235.07 H651.17" stroke="#2a2a2a" stroke-width="0.9" fill="none"/>
<path d="M528.2,194.64 V197.63 M526.4,194.64 H530 M526.4,197.63 H530" stroke="#2a2a2a" stroke-width="0.9" fill="none"/>
<path d="M548.39,188.35 V191.34 M546.59,188.35 H550.19 M546.59,191.34 H550.19" stroke="#2a2a2a" stroke-width="0.9" fill="none"/>
<path d="M568.59,183.55 V186.55 M566.79,183.55 H570.39 M566.79,186.55 H570.39" stroke="#2a2a2a" stroke-width="0.9" fill="none"/>
<path d="M588.78,217.7 V223.69 M586.98,217.7 H590.58 M586.98,223.69 H590.58" stroke="#2a2a2a" stroke-width="0.9" fill="none"/>
<path d="M608.98,198.23 V211.41 M607.18,198.23 H610.78 M607.18,211.41 H610.78" stroke="#2a2a2a" stroke-width="0.9" fill="none"/>
<path d="M629.18,211.41 V223.39 M627.38,211.41 H630.98 M627.38,223.39 H630.98" stroke="#2a2a2a" stroke-width="0.9" fill="none"/>
<path d="M649.37,226.98 V229.98 M647.57,226.98 H651.17 M647.57,229.98 H651.17" stroke="#2a2a2a" stroke-width="0.9" fill="none"/>
<path d="M528.2,209.61 V212.61 M526.4,209.61 H530 M526.4,212.61 H530" stroke="#2a2a2a" stroke-width="0.9" fill="none"/>
<path d="M548.39,236.57 V239.56 M546.59,236.57 H550.19 M546.59,239.56 H550.19" stroke="#2a2a2a" stroke-width="0.9" fill="none"/>
<path d="M568.59,212.91 V224.88 M566.79,212.91 H570.39 M566.79,224.88 H570.39" stroke="#2a2a2a" stroke-width="0.9" fill="none"/>
<path d="M588.78,215.6 V224.59 M586.98,215.6 H590.58 M586.98,224.59 H590.58" stroke="#2a2a2a" stroke-width="0.9" fill="none"/>
<path d="M608.98,215.6 V224.59 M607.18,215.6 H610.78 M607.18,224.59 H610.78" stroke="#2a2a2a" stroke-width="0.9" fill="none"/>
<path d="M629.18,215.6 V224.59 M627.38,215.6 H630.98 M627.38,224.59 H630.98" stroke="#2a2a2a" stroke-width="0.9" fill="none"/>
<path d="M649.37,219.19 V222.19 M647.57,219.19 H651.17 M647.57,222.19 H651.17" stroke="#2a2a2a" stroke-width="0.9" fill="none"/>
<path d="M508,218.6 L528.2,196.13 L548.39,232.22 L568.59,232.22 L588.78,233.27 L608.98,232.67 L629.18,233.27 L649.37,233.57" fill="none" stroke="#000" stroke-width="2.1" stroke-linejoin="round"/>
<circle cx="508" cy="218.6" r="4.2" fill="#000"/>
<circle cx="528.2" cy="196.13" r="4.2" fill="#000"/>
<circle cx="548.39" cy="232.22" r="4.2" fill="#000"/>
<circle cx="568.59" cy="232.22" r="4.2" fill="#000"/>
<circle cx="588.78" cy="233.27" r="4.2" fill="#000"/>
<circle cx="608.98" cy="232.67" r="4.2" fill="#000"/>
<circle cx="629.18" cy="233.27" r="4.2" fill="#000"/>
<circle cx="649.37" cy="233.57" r="4.2" fill="#000"/>
<path d="M508,218.6 L528.2,196.13 L548.39,189.84 L568.59,185.05 L588.78,220.69 L608.98,204.82 L629.18,217.4 L649.37,228.48" fill="none" stroke="#000" stroke-width="2.1" stroke-linejoin="round"/>
<circle cx="508" cy="218.6" r="3.6" fill="#fff" stroke="#000" stroke-width="2"/>
<circle cx="528.2" cy="196.13" r="3.6" fill="#fff" stroke="#000" stroke-width="2"/>
<circle cx="548.39" cy="189.84" r="3.6" fill="#fff" stroke="#000" stroke-width="2"/>
<circle cx="568.59" cy="185.05" r="3.6" fill="#fff" stroke="#000" stroke-width="2"/>
<circle cx="588.78" cy="220.69" r="3.6" fill="#fff" stroke="#000" stroke-width="2"/>
<circle cx="608.98" cy="204.82" r="3.6" fill="#fff" stroke="#000" stroke-width="2"/>
<circle cx="629.18" cy="217.4" r="3.6" fill="#fff" stroke="#000" stroke-width="2"/>
<circle cx="649.37" cy="228.48" r="3.6" fill="#fff" stroke="#000" stroke-width="2"/>
<path d="M508,217.1 L528.2,211.11 L548.39,238.06 L568.59,218.9 L588.78,220.09 L608.98,220.09 L629.18,220.09 L649.37,220.69" fill="none" stroke="#00aff0" stroke-width="2.1" stroke-linejoin="round"/>
<path d="M508,212.9 L512.2,220.67 L503.8,220.67 Z" fill="#06a6ec" stroke="#1468c8" stroke-width="1"/>
<path d="M528.2,206.91 L532.4,214.68 L524,214.68 Z" fill="#06a6ec" stroke="#1468c8" stroke-width="1"/>
<path d="M548.39,233.86 L552.59,241.63 L544.19,241.63 Z" fill="#06a6ec" stroke="#1468c8" stroke-width="1"/>
<path d="M568.59,214.7 L572.79,222.47 L564.39,222.47 Z" fill="#06a6ec" stroke="#1468c8" stroke-width="1"/>
<path d="M588.78,215.89 L592.98,223.66 L584.58,223.66 Z" fill="#06a6ec" stroke="#1468c8" stroke-width="1"/>
<path d="M608.98,215.89 L613.18,223.66 L604.78,223.66 Z" fill="#06a6ec" stroke="#1468c8" stroke-width="1"/>
<path d="M629.18,215.89 L633.38,223.66 L624.98,223.66 Z" fill="#06a6ec" stroke="#1468c8" stroke-width="1"/>
<path d="M649.37,216.49 L653.57,224.26 L645.17,224.26 Z" fill="#06a6ec" stroke="#1468c8" stroke-width="1"/>
</g>
<g id="pg">
<path d="M45.4,311.4 H211.2 V428.8" fill="none" stroke="#000" stroke-width="1.9"/>
<line x1="41.4" y1="428.8" x2="45.4" y2="428.8" stroke="#b4b4b4" stroke-width="1"/>
<text x="38.3" y="433.12" class="yl" style="font-size:12px">0</text>
<line x1="41.4" y1="409.23" x2="45.4" y2="409.23" stroke="#b4b4b4" stroke-width="1"/>
<text x="38.3" y="413.55" class="yl" style="font-size:12px">0.5</text>
<line x1="41.4" y1="389.67" x2="45.4" y2="389.67" stroke="#b4b4b4" stroke-width="1"/>
<text x="38.3" y="393.99" class="yl" style="font-size:12px">1</text>
<line x1="41.4" y1="370.1" x2="45.4" y2="370.1" stroke="#b4b4b4" stroke-width="1"/>
<text x="38.3" y="374.42" class="yl" style="font-size:12px">1.5</text>
<line x1="41.4" y1="350.53" x2="45.4" y2="350.53" stroke="#b4b4b4" stroke-width="1"/>
<text x="38.3" y="354.85" class="yl" style="font-size:12px">2</text>
<line x1="41.4" y1="330.97" x2="45.4" y2="330.97" stroke="#b4b4b4" stroke-width="1"/>
<text x="38.3" y="335.29" class="yl" style="font-size:12px">2.5</text>
<line x1="41.4" y1="311.4" x2="45.4" y2="311.4" stroke="#b4b4b4" stroke-width="1"/>
<text x="38.3" y="315.72" class="yl" style="font-size:12px">3</text>
<line x1="45.4" y1="428.8" x2="45.4" y2="431.8" stroke="#b4b4b4" stroke-width="1"/>
<text x="45.4" y="446.91" class="xl" style="font-size:10.3px">0</text>
<line x1="78.56" y1="428.8" x2="78.56" y2="431.8" stroke="#b4b4b4" stroke-width="1"/>
<text x="78.56" y="446.91" class="xl" style="font-size:10.3px">20</text>
<line x1="111.72" y1="428.8" x2="111.72" y2="431.8" stroke="#b4b4b4" stroke-width="1"/>
<text x="111.72" y="446.91" class="xl" style="font-size:10.3px">40</text>
<line x1="144.88" y1="428.8" x2="144.88" y2="431.8" stroke="#b4b4b4" stroke-width="1"/>
<text x="144.88" y="446.91" class="xl" style="font-size:10.3px">60</text>
<line x1="178.04" y1="428.8" x2="178.04" y2="431.8" stroke="#b4b4b4" stroke-width="1"/>
<text x="178.04" y="446.91" class="xl" style="font-size:10.3px">80</text>
<line x1="211.2" y1="428.8" x2="211.2" y2="431.8" stroke="#b4b4b4" stroke-width="1"/>
<text x="211.2" y="446.91" class="xl" style="font-size:10.3px">100</text>
<path d="M45.4,310.6 V428.8 H211.2" fill="none" stroke="#404040" stroke-width="1.8"/>
<text x="49.3" y="325.8" class="pl">g</text>
<path d="M65.3,344.27 V348.19 M63.5,344.27 H67.1 M63.5,348.19 H67.1" stroke="#2a2a2a" stroke-width="0.9" fill="none"/>
<path d="M85.19,372.06 V375.97 M83.39,372.06 H86.99 M83.39,375.97 H86.99" stroke="#2a2a2a" stroke-width="0.9" fill="none"/>
<path d="M105.09,371.67 V375.58 M103.29,371.67 H106.89 M103.29,375.58 H106.89" stroke="#2a2a2a" stroke-width="0.9" fill="none"/>
<path d="M124.98,369.71 V373.62 M123.18,369.71 H126.78 M123.18,373.62 H126.78" stroke="#2a2a2a" stroke-width="0.9" fill="none"/>
<path d="M144.88,370.88 V374.8 M143.08,370.88 H146.68 M143.08,374.8 H146.68" stroke="#2a2a2a" stroke-width="0.9" fill="none"/>
<path d="M164.78,368.93 V372.84 M162.98,368.93 H166.58 M162.98,372.84 H166.58" stroke="#2a2a2a" stroke-width="0.9" fill="none"/>
<path d="M184.67,369.32 V373.23 M182.87,369.32 H186.47 M182.87,373.23 H186.47" stroke="#2a2a2a" stroke-width="0.9" fill="none"/>
<path d="M65.3,327.05 V330.97 M63.5,327.05 H67.1 M63.5,330.97 H67.1" stroke="#2a2a2a" stroke-width="0.9" fill="none"/>
<path d="M85.19,362.66 V366.58 M83.39,362.66 H86.99 M83.39,366.58 H86.99" stroke="#2a2a2a" stroke-width="0.9" fill="none"/>
<path d="M105.09,366.19 V383.41 M103.29,366.19 H106.89 M103.29,383.41 H106.89" stroke="#2a2a2a" stroke-width="0.9" fill="none"/>
<path d="M124.98,353.27 V374.4 M123.18,353.27 H126.78 M123.18,374.4 H126.78" stroke="#2a2a2a" stroke-width="0.9" fill="none"/>
<path d="M144.88,357.58 V370.1 M143.08,357.58 H146.68 M143.08,370.1 H146.68" stroke="#2a2a2a" stroke-width="0.9" fill="none"/>
<path d="M164.78,362.27 V377.93 M162.98,362.27 H166.58 M162.98,377.93 H166.58" stroke="#2a2a2a" stroke-width="0.9" fill="none"/>
<path d="M184.67,374.8 V378.71 M182.87,374.8 H186.47 M182.87,378.71 H186.47" stroke="#2a2a2a" stroke-width="0.9" fill="none"/>
<path d="M65.3,355.62 V359.53 M63.5,355.62 H67.1 M63.5,359.53 H67.1" stroke="#2a2a2a" stroke-width="0.9" fill="none"/>
<path d="M85.19,367.36 V371.27 M83.39,367.36 H86.99 M83.39,371.27 H86.99" stroke="#2a2a2a" stroke-width="0.9" fill="none"/>
<path d="M105.09,363.06 V374.01 M103.29,363.06 H106.89 M103.29,374.01 H106.89" stroke="#2a2a2a" stroke-width="0.9" fill="none"/>
<path d="M124.98,364.62 V372.45 M123.18,364.62 H126.78 M123.18,372.45 H126.78" stroke="#2a2a2a" stroke-width="0.9" fill="none"/>
<path d="M144.88,362.66 V370.49 M143.08,362.66 H146.68 M143.08,370.49 H146.68" stroke="#2a2a2a" stroke-width="0.9" fill="none"/>
<path d="M164.78,361.88 V369.71 M162.98,361.88 H166.58 M162.98,369.71 H166.58" stroke="#2a2a2a" stroke-width="0.9" fill="none"/>
<path d="M184.67,363.84 V367.75 M182.87,363.84 H186.47 M182.87,367.75 H186.47" stroke="#2a2a2a" stroke-width="0.9" fill="none"/>
<path d="M45.4,428.8 L65.3,346.23 L85.19,374.01 L105.09,373.62 L124.98,371.67 L144.88,372.84 L164.78,370.88 L184.67,371.27" fill="none" stroke="#000" stroke-width="2.1" stroke-linejoin="round"/>
<circle cx="45.4" cy="428.8" r="4.2" fill="#000"/>
<circle cx="65.3" cy="346.23" r="4.2" fill="#000"/>
<circle cx="85.19" cy="374.01" r="4.2" fill="#000"/>
<circle cx="105.09" cy="373.62" r="4.2" fill="#000"/>
<circle cx="124.98" cy="371.67" r="4.2" fill="#000"/>
<circle cx="144.88" cy="372.84" r="4.2" fill="#000"/>
<circle cx="164.78" cy="370.88" r="4.2" fill="#000"/>
<circle cx="184.67" cy="371.27" r="4.2" fill="#000"/>
<path d="M45.4,428.8 L65.3,329.01 L85.19,364.62 L105.09,374.8 L124.98,363.84 L144.88,363.84 L164.78,370.1 L184.67,376.75" fill="none" stroke="#000" stroke-width="2.1" stroke-linejoin="round"/>
<circle cx="45.4" cy="428.8" r="3.6" fill="#fff" stroke="#000" stroke-width="2"/>
<circle cx="65.3" cy="329.01" r="3.6" fill="#fff" stroke="#000" stroke-width="2"/>
<circle cx="85.19" cy="364.62" r="3.6" fill="#fff" stroke="#000" stroke-width="2"/>
<circle cx="105.09" cy="374.8" r="3.6" fill="#fff" stroke="#000" stroke-width="2"/>
<circle cx="124.98" cy="363.84" r="3.6" fill="#fff" stroke="#000" stroke-width="2"/>
<circle cx="144.88" cy="363.84" r="3.6" fill="#fff" stroke="#000" stroke-width="2"/>
<circle cx="164.78" cy="370.1" r="3.6" fill="#fff" stroke="#000" stroke-width="2"/>
<circle cx="184.67" cy="376.75" r="3.6" fill="#fff" stroke="#000" stroke-width="2"/>
<path d="M45.4,428.8 L65.3,357.58 L85.19,369.32 L105.09,368.53 L124.98,368.53 L144.88,366.58 L164.78,365.8 L184.67,365.8" fill="none" stroke="#00aff0" stroke-width="2.1" stroke-linejoin="round"/>
<path d="M45.4,424.6 L49.6,432.37 L41.2,432.37 Z" fill="#06a6ec" stroke="#1468c8" stroke-width="1"/>
<path d="M65.3,353.38 L69.5,361.15 L61.1,361.15 Z" fill="#06a6ec" stroke="#1468c8" stroke-width="1"/>
<path d="M85.19,365.12 L89.39,372.89 L80.99,372.89 Z" fill="#06a6ec" stroke="#1468c8" stroke-width="1"/>
<path d="M105.09,364.33 L109.29,372.1 L100.89,372.1 Z" fill="#06a6ec" stroke="#1468c8" stroke-width="1"/>
<path d="M124.98,364.33 L129.18,372.1 L120.78,372.1 Z" fill="#06a6ec" stroke="#1468c8" stroke-width="1"/>
<path d="M144.88,362.38 L149.08,370.15 L140.68,370.15 Z" fill="#06a6ec" stroke="#1468c8" stroke-width="1"/>
<path d="M164.78,361.6 L168.98,369.37 L160.58,369.37 Z" fill="#06a6ec" stroke="#1468c8" stroke-width="1"/>
<path d="M184.67,361.6 L188.87,369.37 L180.47,369.37 Z" fill="#06a6ec" stroke="#1468c8" stroke-width="1"/>
</g>
<text transform="translate(16.8,80.4) rotate(-90)" class="at" style="font-size:17px" textLength="24" lengthAdjust="spacingAndGlyphs">OD</text>
<text transform="translate(16.6,55.4) rotate(-90)" class="at" style="font-size:10.8px;stroke-width:0" textLength="17.4" lengthAdjust="spacingAndGlyphs">600</text>
<text transform="translate(241.97,113.50) rotate(-90)" class="at" style="font-size:13.7px" textLength="88.00" lengthAdjust="spacingAndGlyphs">Acetone (g/L)</text>
<text transform="translate(473.22,111.50) rotate(-90)" class="at" style="font-size:13.4px" textLength="83.00" lengthAdjust="spacingAndGlyphs">Ethanol (g/L)</text>
<text transform="translate(16.95,264.50) rotate(-90)" class="at" style="font-size:14.2px" textLength="84.00" lengthAdjust="spacingAndGlyphs">Butanol (g/L)</text>
<text transform="translate(245.77,242.50) rotate(-90)" class="at" style="font-size:14.0px" textLength="60.50" lengthAdjust="spacingAndGlyphs">ABE (g/L)</text>
<text transform="translate(480.58,267.00) rotate(-90)" class="at" style="font-size:13.2px" textLength="102.00" lengthAdjust="spacingAndGlyphs">Acetic acid (g/L)</text>
<text transform="translate(11.16,417.50) rotate(-90)" class="at" style="font-size:13.2px" textLength="97.50" lengthAdjust="spacingAndGlyphs">Butyric acid (g/L)</text>
<text x="335.7" y="306.8" class="ht" textLength="40.9" lengthAdjust="spacingAndGlyphs">Time (h)</text>
<text x="571.3" y="308.5" class="ht" textLength="40.8" lengthAdjust="spacingAndGlyphs">Time (h)</text>
<text x="107.2" y="462.6" class="ht" textLength="40.8" lengthAdjust="spacingAndGlyphs">Time (h)</text>
<line x1="250.3" y1="351.9" x2="272.2" y2="351.9" stroke="#000" stroke-width="2"/>
<circle cx="261.1" cy="351.9" r="4.6" fill="#000"/>
<line x1="250.3" y1="371.4" x2="272.2" y2="371.4" stroke="#000" stroke-width="2"/>
<circle cx="261.1" cy="371.4" r="4.1" fill="#fff" stroke="#000" stroke-width="2"/>
<line x1="250.3" y1="392.6" x2="272.2" y2="392.6" stroke="#00aff0" stroke-width="2"/>
<path d="M261.1,388.6 L265.8,397.3 L256.4,397.3 Z" fill="#06a6ec" stroke="#1468c8" stroke-width="1"/>
<text x="278.9" y="355" class="lg" font-style="italic" textLength="12.2" lengthAdjust="spacingAndGlyphs">Cb</text>
<text x="293.4" y="355" class="lg" textLength="125.2" lengthAdjust="spacingAndGlyphs">pWUR460_<tspan font-style="italic">dhaD1+gldA1</tspan></text>
<text x="277.6" y="377.2" class="lg" font-style="italic" textLength="12.2" lengthAdjust="spacingAndGlyphs">Cb</text>
<text x="292.5" y="377.2" class="lg" textLength="171.5" lengthAdjust="spacingAndGlyphs">pWUR459_[(<tspan font-style="italic">dhaD1+gldA1</tspan>)  <tspan font-style="italic">dhaK</tspan>]</text>
<text x="277" y="397.8" class="lg" font-style="italic" textLength="12.2" lengthAdjust="spacingAndGlyphs">Cb</text>
<text x="291.6" y="397.8" class="lg" textLength="122.2" lengthAdjust="spacingAndGlyphs">empty plasmid (Control)</text>
</svg>
</body></html>
